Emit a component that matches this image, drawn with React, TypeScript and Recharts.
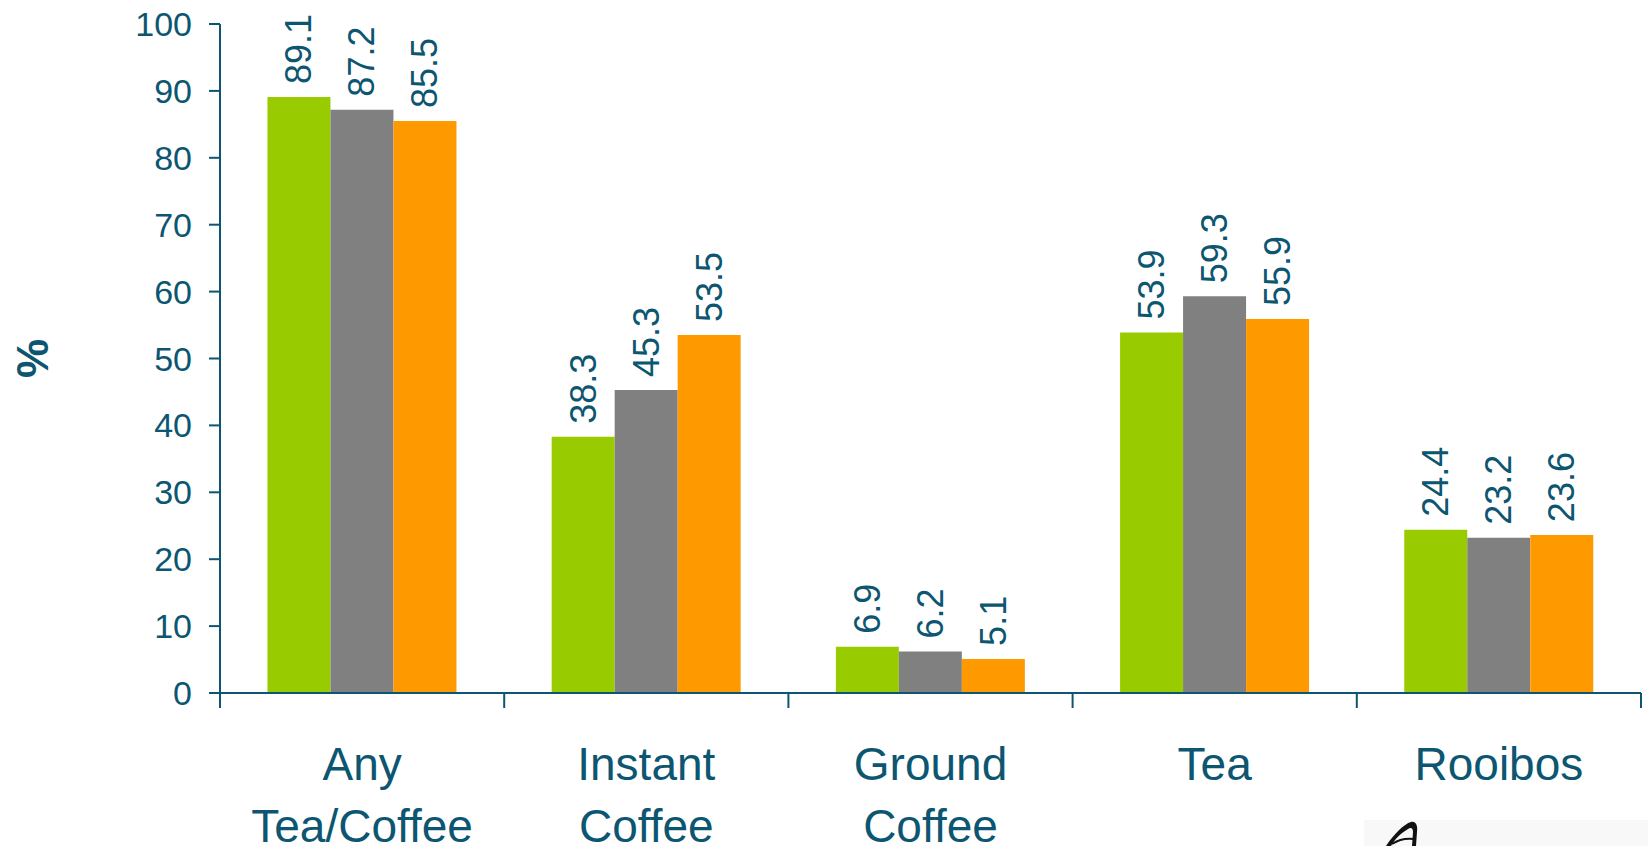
import React from 'react';
import { BarChart, Bar, XAxis, YAxis, LabelList } from 'recharts';

// category names (line breaks split the axis labels)
const CATEGORIES = ['Any\nTea/Coffee', 'Instant\nCoffee', 'Ground\nCoffee', 'Tea', 'Rooibos'];
const GREEN_VALUES = [89.1, 38.3, 6.9, 53.9, 24.4];
const GREY_VALUES = [87.2, 45.3, 6.2, 59.3, 23.2];
const ORANGE_VALUES = [85.5, 53.5, 5.1, 55.9, 23.6];
const Y_TICKS = [0, 10, 20, 30, 40, 50, 60, 70, 80, 90, 100];

const INK = '#0c5671';
const FONT = '"Liberation Sans", Arial, sans-serif';

const data = CATEGORIES.map((name, i) => ({
  name,
  green: GREEN_VALUES[i],
  grey: GREY_VALUES[i],
  orange: ORANGE_VALUES[i],
}));

// tick marks sit on the category boundaries, labels in the middle
const CategoryTick = (props: any) => {
  const { x, y, payload } = props;
  const half = payload.offset || 0;
  const lines = String(payload.value).split('\n');
  const isLast = payload.value === CATEGORIES[CATEGORIES.length - 1];
  return (
    <g>
      <line x1={x - half} x2={x - half} y1={y} y2={y + 15} stroke={INK} strokeWidth={2} />
      {isLast && <line x1={x + half} x2={x + half} y1={y} y2={y + 15} stroke={INK} strokeWidth={2} />}
      <text x={x} y={y + 87} textAnchor="middle" fill={INK} fontSize={46} fontFamily={FONT}>
        {lines.map((l, i) => (
          <tspan key={i} x={x} dy={i === 0 ? 0 : 62}>{l}</tspan>
        ))}
      </text>
    </g>
  );
};

const ValueLabel = (props: any) => {
  const { x, y, width, value } = props;
  const cx = x + width / 2;
  const cy = y - 13;
  return (
    <text
      x={cx}
      y={cy}
      transform={`rotate(-90 ${cx} ${cy})`}
      textAnchor="start"
      dominantBaseline="central"
      fontSize={36}
      fill={INK}
      fontFamily={FONT}
    >
      {value}
    </text>
  );
};

const AxisTitle = (props: any) => {
  const { viewBox } = props;
  const cx = 32;
  const cy = viewBox.y + viewBox.height / 2;
  return (
    <text
      x={cx}
      y={cy}
      transform={`rotate(-90 ${cx} ${cy})`}
      textAnchor="middle"
      dominantBaseline="central"
      fontSize={44}
      fontWeight="bold"
      fill={INK}
      fontFamily={FONT}
    >
      %
    </text>
  );
};

export default function App() {
  return (
    <div style={{ position: 'fixed', left: 0, top: 0, width: 1648, height: 846, background: '#fff', overflow: 'hidden' }}>
      <BarChart
        width={1648}
        height={846}
        data={data}
        margin={{ top: 24, right: 7, bottom: 0, left: 0 }}
        barCategoryGap="16.7%"
        barGap={0}
      >
        <XAxis
          dataKey="name"
          height={153}
          axisLine={{ stroke: INK, strokeWidth: 2 }}
          tickLine={false}
          tickSize={0}
          tickMargin={0}
          interval={0}
          tick={<CategoryTick />}
        />
        <YAxis
          width={220}
          domain={[0, 100]}
          ticks={Y_TICKS}
          interval={0}
          axisLine={{ stroke: INK, strokeWidth: 2 }}
          tickLine={{ stroke: INK, strokeWidth: 2 }}
          tickSize={11}
          tickMargin={17}
          tick={{ fill: INK, fontSize: 34, fontFamily: FONT }}
          label={<AxisTitle />}
        />
        <Bar dataKey="green" fill="#99cc00" isAnimationActive={false}>
          <LabelList dataKey="green" content={<ValueLabel />} />
        </Bar>
        <Bar dataKey="grey" fill="#808080" isAnimationActive={false}>
          <LabelList dataKey="grey" content={<ValueLabel />} />
        </Bar>
        <Bar dataKey="orange" fill="#ff9900" isAnimationActive={false}>
          <LabelList dataKey="orange" content={<ValueLabel />} />
        </Bar>
      </BarChart>
      {/* corner of the publisher logo */}
      <svg style={{ position: 'absolute', left: 1364, top: 820 }} width={284} height={26}>
        <rect x={0} y={0} width={284} height={26} fill="#f8f8f8" />
        <path d="M22 26 C30 14 40 4 47 2 C52 1 54 6 53 12 L52 26 L48 26 L49 12 C49 8 47 7 44 9 C37 13 30 20 27 26 Z" fill="#111" />
        <path d="M28 24 C34 20 42 18 50 19" stroke="#111" strokeWidth={2} fill="none" />
      </svg>
    </div>
  );
}
